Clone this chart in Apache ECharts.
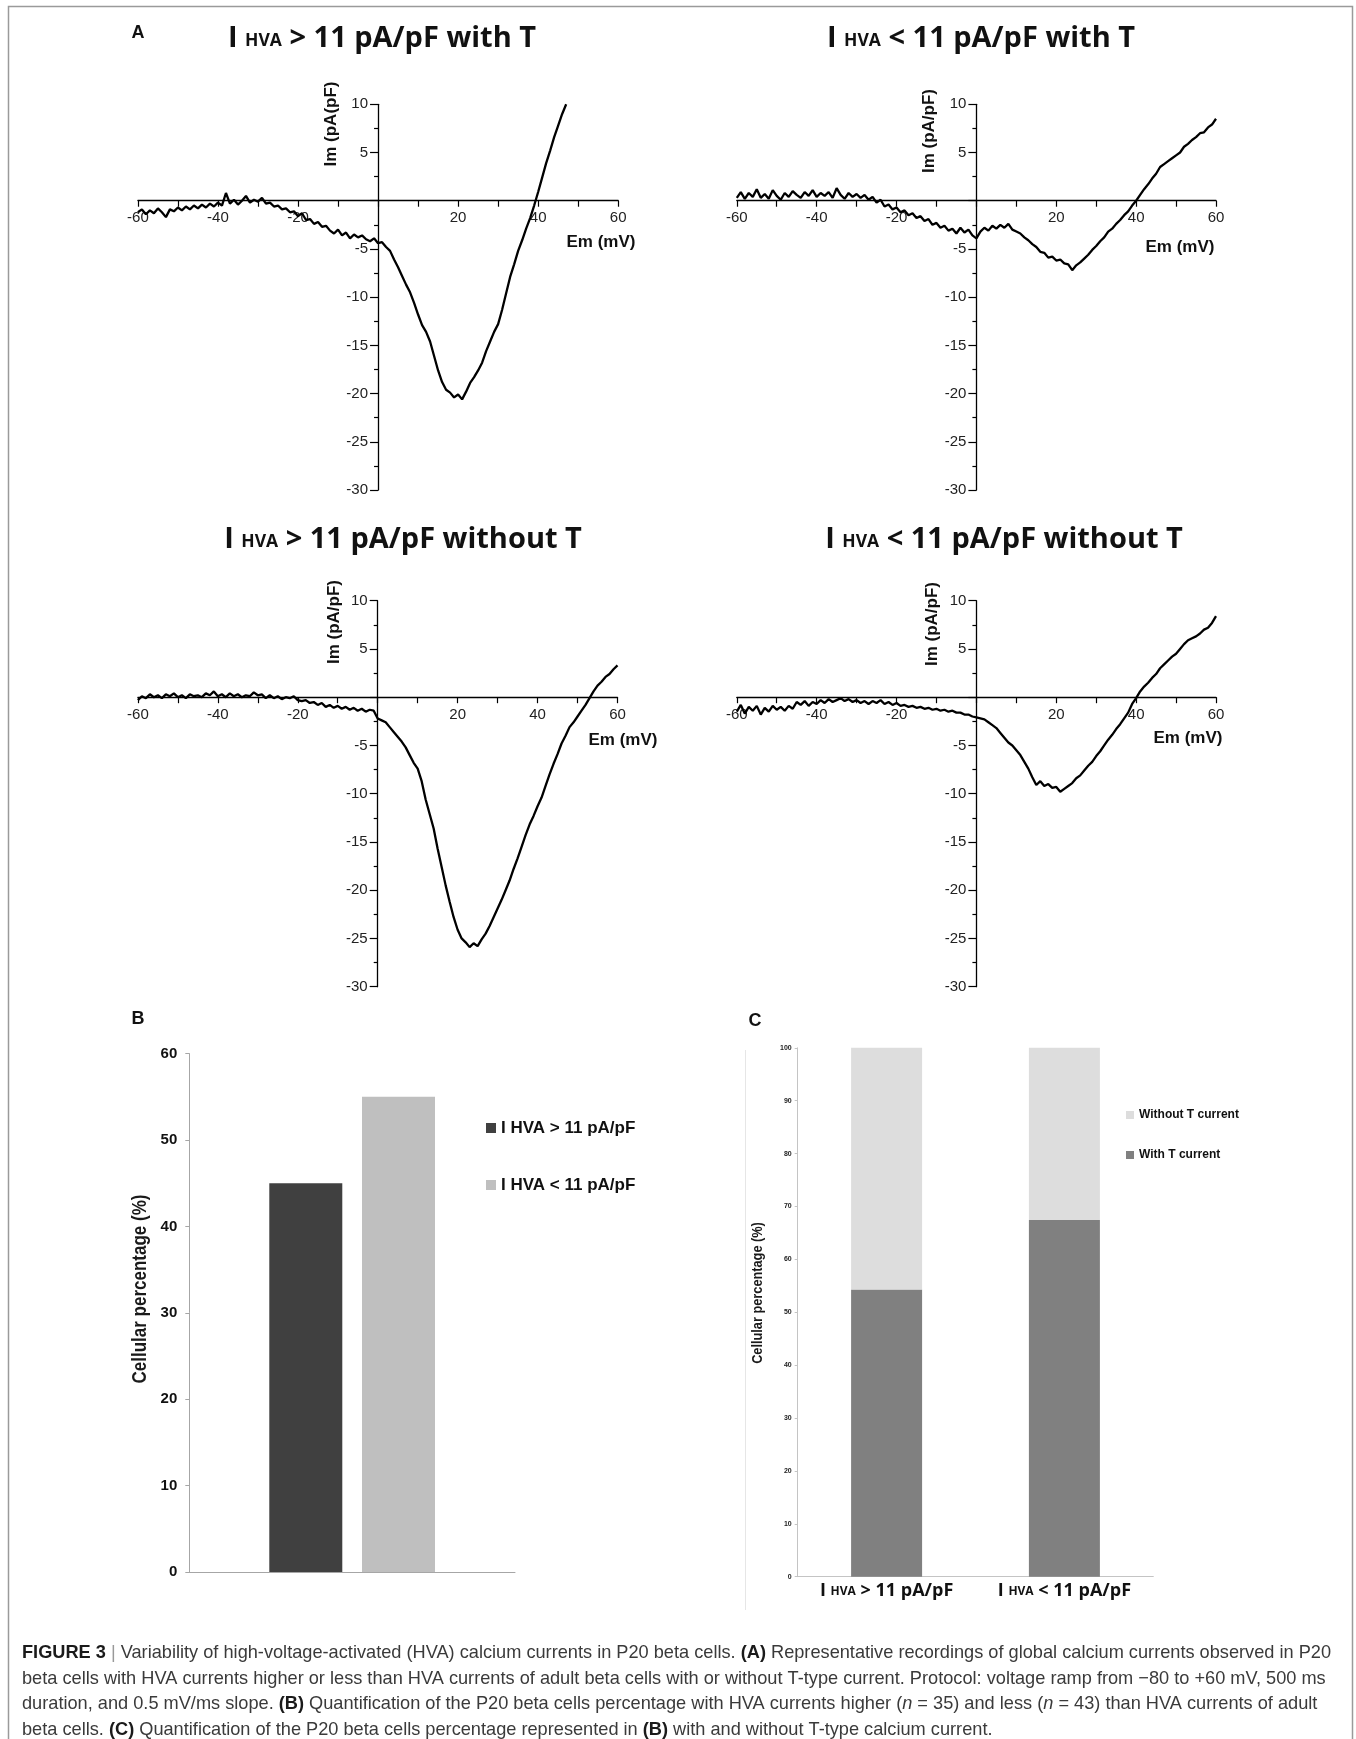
<!DOCTYPE html>
<html><head><meta charset="utf-8">
<script src="https://cdn.jsdelivr.net/npm/echarts@6/dist/echarts.min.js"></script>
<style>html,body{margin:0;padding:0;background:#fff}#c{width:1356px;height:1739px}</style>
</head><body><div id="c"></div>
<script>
// ---------- DATA ----------
const voltage = [-60,-59,-58,-57,-56,-55,-54,-53,-52,-51,-50,-49,-48,-47,-46,-45,-44,-43,-42,-41,
-40,-39,-38,-37,-36,-35,-34,-33,-32,-31,-30,-29,-28,-27,-26,-25,-24,-23,-22,-21,
-20,-19,-18,-17,-16,-15,-14,-13,-12,-11,-10,-9,-8,-7,-6,-5,-4,-3,-2,-1,
0,1,2,3,4,5,6,7,8,9,10,11,12,13,14,15,16,17,18,19,20,21,22,23,24,25,26,27,28,29,
30,31,32,33,34,35,36,37,38,39,40,41,42,43,44,45,46,47,48,49,50,51,52,53,54,55,56,57,58,59,60];

const imHighWithT = [-1.2,-0.9,-1.4,-1.0,-1.3,-0.8,-1.2,-1.7,-0.9,-1.1,
-0.7,-1.0,-0.6,-0.9,-0.5,-0.8,-0.4,-0.7,-0.3,-0.6,
-0.2,-0.5,0.8,-0.3,0.1,-0.4,0.0,0.5,-0.2,0.1,
-0.1,0.3,-0.3,-0.2,-0.6,-0.5,-0.9,-0.8,-1.2,-1.1,
-1.6,-1.3,-2.0,-1.9,-2.4,-2.2,-2.7,-2.6,-3.1,-3.4,
-3.0,-3.6,-3.3,-3.9,-3.5,-3.8,-3.6,-4.0,-4.2,-3.9,
-4.4,-4.3,-4.8,-5.2,-6.1,-6.9,-7.8,-8.7,-9.5,-10.6,
-11.8,-12.9,-13.6,-14.6,-16.1,-17.6,-18.8,-19.6,-19.9,-20.4,
-20.1,-20.6,-19.8,-18.9,-18.3,-17.6,-16.8,-15.6,-14.6,-13.6,
-12.8,-11.3,-9.6,-7.9,-6.6,-5.2,-4.1,-2.9,-1.8,-0.5,
0.9,2.4,3.9,5.2,6.6,7.8,9.0,10.0];

const imLowWithT = [0.3,0.9,0.2,0.8,0.4,1.2,0.3,0.7,0.2,1.1,
0.5,0.1,0.8,0.4,1.0,0.6,0.3,0.9,0.5,1.1,
0.4,0.8,0.5,0.9,0.3,1.3,0.6,0.2,0.8,0.4,
0.7,0.3,0.6,0.1,0.4,-0.2,0.1,-0.6,-0.4,-0.9,
-0.7,-1.2,-1.0,-1.5,-1.3,-1.8,-1.6,-2.1,-1.9,-2.5,
-2.3,-2.8,-2.6,-3.1,-2.9,-3.4,-2.8,-3.3,-3.0,-3.6,
-3.9,-3.2,-2.8,-3.1,-2.6,-2.9,-2.5,-2.8,-2.4,-3.0,
-3.2,-3.4,-3.8,-4.1,-4.5,-4.8,-5.3,-5.4,-5.9,-5.8,
-6.2,-6.1,-6.5,-6.6,-7.2,-6.7,-6.4,-6.0,-5.6,-5.1,
-4.7,-4.2,-3.8,-3.2,-2.9,-2.4,-2.0,-1.5,-1.1,-0.5,
0.0,0.6,1.2,1.7,2.3,2.8,3.5,3.8,4.1,4.4,
4.7,5.0,5.6,5.9,6.3,6.6,7.0,7.1,7.6,7.9,
8.5];

const imHighWithoutT = [-0.3,0.1,-0.1,0.3,0.0,0.2,-0.1,0.3,0.1,0.4,
0.0,0.2,-0.1,0.3,0.1,0.2,0.0,0.4,0.2,0.6,
0.1,0.3,0.0,0.4,0.1,0.3,0.0,0.2,0.1,0.5,
0.2,0.3,-0.1,0.2,-0.1,0.1,-0.2,0.0,-0.1,0.1,
-0.3,-0.4,-0.3,-0.6,-0.5,-0.8,-0.6,-1.0,-0.8,-1.1,
-0.9,-1.2,-1.0,-1.3,-1.1,-1.4,-1.2,-1.5,-1.3,-1.4,
-2.2,-2.4,-2.6,-3.1,-3.6,-4.1,-4.6,-5.2,-6.0,-6.8,
-7.4,-8.7,-10.6,-12.1,-13.6,-15.7,-17.6,-19.5,-21.2,-22.8,
-24.1,-25.0,-25.4,-25.9,-25.5,-25.8,-25.1,-24.5,-23.7,-22.8,
-21.9,-21.0,-20.0,-19.0,-17.8,-16.7,-15.5,-14.3,-13.2,-12.3,
-11.3,-10.4,-9.2,-8.0,-6.9,-5.9,-4.8,-4.0,-3.1,-2.6,
-2.0,-1.4,-0.8,-0.1,0.6,1.2,1.6,2.1,2.4,2.9,
3.3];

const imLowWithoutT = [-1.5,-0.8,-1.7,-1.0,-1.4,-0.9,-1.8,-1.1,-1.5,-0.9,
-1.3,-1.0,-1.4,-0.9,-1.2,-0.5,-0.8,-0.4,-0.9,-0.5,
-0.7,-0.3,-0.6,-0.2,-0.5,-0.3,-0.1,-0.4,-0.2,-0.5,
-0.3,-0.6,-0.4,-0.7,-0.4,-0.6,-0.3,-0.7,-0.5,-0.8,
-0.6,-0.9,-0.8,-1.0,-0.9,-1.1,-1.0,-1.2,-1.1,-1.3,
-1.2,-1.4,-1.3,-1.5,-1.4,-1.6,-1.6,-1.8,-1.8,-2.0,
-2.1,-2.2,-2.3,-2.6,-2.9,-3.2,-3.7,-4.2,-4.7,-5.0,
-5.5,-6.0,-6.7,-7.4,-8.3,-9.1,-8.7,-9.2,-9.0,-9.4,
-9.3,-9.8,-9.5,-9.2,-8.9,-8.4,-8.1,-7.6,-7.1,-6.7,
-6.1,-5.6,-5.0,-4.4,-3.9,-3.3,-2.8,-2.2,-1.6,-0.7,
-0.1,0.6,1.1,1.5,2.0,2.4,3.0,3.4,3.8,4.2,
4.5,5.0,5.5,5.9,6.1,6.3,6.6,7.0,7.2,7.7,
8.4];

const panelComparators = ['>', '<', '>', '<'];
const panelSuffixes = ['with T', 'with T', 'without T', 'without T'];
const currentAxisNames = ['Im (pA(pF)', 'Im (pA/pF)', 'Im (pA/pF)', 'Im (pA/pF)'];
const voltageAxisName = 'Em (mV)';
const voltageRange = [-60, 60];
const currentRange = [-30, 10];

const groupLabels = ['I HVA > 11 pA/pF', 'I HVA < 11 pA/pF'];
const cellPercent = [45, 55];
const tCurrentNames = ['With T current', 'Without T current'];
const withTCurrent = [54.29, 67.44];
const withoutTCurrent = [45.71, 32.56];

// ---------- LAYOUT / STYLE ----------
const SANS = '"Liberation Sans", Arial, Helvetica, sans-serif';
const NARROW = '"Liberation Sans Narrow", "Arial Narrow", "Liberation Sans", sans-serif';
const TITLE = '"Open Sans", "Noto Sans", sans-serif';

const ivGrids = [
  {left:137.9, top:104.3, width:480.3, height:385.7},
  {left:736.8, top:104.3, width:479.2, height:385.7},
  {left:137.9, top:600.7, width:479.6, height:386},
  {left:736.8, top:600.7, width:479.2, height:386}
];
const titlePos = [[382,36],[981,36],[403,537],[1004,537]];
const yNamePos = [[331,124],[929,131],[334,622],[932,624]];
const xNamePos = [[601,242],[1180,247],[623,740],[1188,738]];
const traces = [imHighWithT, imLowWithT, imHighWithoutT, imLowWithoutT];

const grids = ivGrids.map(g => Object.assign({outerBoundsMode:'none', containLabel:false}, g));
grids.push({left:189.3, top:1053.6, width:325.7, height:518.5, outerBoundsMode:'none', containLabel:false});
grids.push({left:797.7, top:1047.8, width:355.6, height:528.9, outerBoundsMode:'none', containLabel:false});

const hideZero = v => (v === 0 ? '' : String(v));
const xAxes = [], yAxes = [], series = [];
ivGrids.forEach((g, i) => {
  // place the axes through the origin (crossing axes), labels included
  const xOff = -g.height * (0 - currentRange[0]) / (currentRange[1] - currentRange[0]);
  const yOff = -g.width * (0 - voltageRange[0]) / (voltageRange[1] - voltageRange[0]);
  xAxes.push({
    type:'value', gridIndex:i, min:voltageRange[0], max:voltageRange[1], interval:20,
    position:'bottom', offset:xOff,
    axisLine:{show:true, onZero:false, lineStyle:{color:'#000', width:1.3}},
    axisTick:{show:true, length:6, lineStyle:{color:'#000', width:1.2}},
    minorTick:{show:true, splitNumber:2, length:6, lineStyle:{color:'#000', width:1.2}},
    axisLabel:{fontFamily:SANS, fontSize:15, color:'#222', margin:10, formatter:hideZero},
    splitLine:{show:false}, minorSplitLine:{show:false}
  });
  yAxes.push({
    type:'value', gridIndex:i, min:currentRange[0], max:currentRange[1], interval:5,
    position:'left', offset:yOff,
    axisLine:{show:true, onZero:false, lineStyle:{color:'#000', width:1.3}},
    axisTick:{show:true, length:8, lineStyle:{color:'#000', width:1.2}},
    minorTick:{show:true, splitNumber:2, length:4, lineStyle:{color:'#000', width:1.2}},
    axisLabel:{fontFamily:SANS, fontSize:15, color:'#222', margin:10, formatter:hideZero},
    splitLine:{show:false}, minorSplitLine:{show:false}
  });
  series.push({
    type:'line', xAxisIndex:i, yAxisIndex:i, showSymbol:false, symbol:'none', silent:true,
    lineStyle:{color:'#000', width:2.3}, z:5,
    data: traces[i].map((y, k) => [voltage[k], y])
  });
});

// Panel B
xAxes.push({type:'category', gridIndex:4, data:[''],
  axisLine:{show:true, lineStyle:{color:'#a6a6a6', width:1}}, axisTick:{show:false}, axisLabel:{show:false}});
yAxes.push({type:'value', gridIndex:4, min:0, max:60, interval:10,
  axisLine:{show:true, lineStyle:{color:'#a6a6a6', width:1}},
  axisTick:{show:true, length:4, lineStyle:{color:'#a6a6a6'}},
  axisLabel:{fontFamily:NARROW, fontWeight:'bold', fontSize:15, color:'#111', margin:12},
  splitLine:{show:false}});
series.push({type:'bar', name:groupLabels[0], xAxisIndex:4, yAxisIndex:4, data:[cellPercent[0]],
  itemStyle:{color:'#404040'}, barWidth:73, barGap:'27%'});
series.push({type:'bar', name:groupLabels[1], xAxisIndex:4, yAxisIndex:4, data:[cellPercent[1]],
  itemStyle:{color:'#bfbfbf'}, barWidth:73, barGap:'27%'});

// Panel C
xAxes.push({type:'category', gridIndex:5, data:groupLabels,
  axisLine:{show:true, lineStyle:{color:'#c4c4c4', width:1}}, axisTick:{show:false},
  axisLabel:{interval:0, hideOverlap:false, margin:1, formatter: v => '{a|I }{s|HVA}{a|' + v.slice(5) + '}',
    rich:{a:{fontFamily:TITLE, fontWeight:'bold', fontSize:18, color:'#111', verticalAlign:'bottom', lineHeight:22},
          s:{fontFamily:TITLE, fontWeight:'bold', fontSize:12, color:'#111', verticalAlign:'bottom', lineHeight:14, padding:[0,0,2,0]}}}});
yAxes.push({type:'value', gridIndex:5, min:0, max:100, interval:10,
  axisLine:{show:true, lineStyle:{color:'#c4c4c4', width:1}},
  axisTick:{show:true, length:3, lineStyle:{color:'#c4c4c4'}},
  axisLabel:{fontFamily:SANS, fontWeight:'bold', fontSize:7, color:'#222', margin:6},
  splitLine:{show:false}});
series.push({type:'bar', name:tCurrentNames[0], xAxisIndex:5, yAxisIndex:5, stack:'t', data:withTCurrent,
  itemStyle:{color:'#808080'}, barWidth:71});
series.push({type:'bar', name:tCurrentNames[1], xAxisIndex:5, yAxisIndex:5, stack:'t', data:withoutTCurrent,
  itemStyle:{color:'#dddddd'}, barWidth:71});

// ---------- GRAPHIC TEXT ----------
const g = [];
g.push({type:'rect', silent:true, shape:{x:8.5, y:6.5, width:1344, height:1800},
  style:{fill:'none', stroke:'#9a9a9a', lineWidth:1.5}});
g.push({type:'line', silent:true, shape:{x1:745.5, y1:1050, x2:745.5, y2:1610},
  style:{stroke:'#e6e6e6', lineWidth:1}});

const titleRich = {
  a:{fontFamily:TITLE, fontWeight:'bold', fontSize:29, fill:'#111', verticalAlign:'bottom', lineHeight:35},
  s:{fontFamily:TITLE, fontWeight:'bold', fontSize:17.5, fill:'#111', verticalAlign:'bottom', lineHeight:21, padding:[0,0,3,0]}
};
for (let i = 0; i < 4; i++) {
  g.push({type:'text', x:titlePos[i][0], y:titlePos[i][1],
    style:{text:'{a|I }{s|HVA}{a| ' + panelComparators[i] + ' 11 pA/pF ' + panelSuffixes[i] + '}',
      rich:titleRich, align:'center', verticalAlign:'middle'}});
  g.push({type:'text', x:yNamePos[i][0], y:yNamePos[i][1], rotation:Math.PI/2,
    style:{text:currentAxisNames[i], font:'bold 17px ' + SANS, fill:'#111', align:'center', verticalAlign:'middle'}});
  g.push({type:'text', x:xNamePos[i][0], y:xNamePos[i][1],
    style:{text:voltageAxisName, font:'bold 17px ' + SANS, fill:'#111', align:'center', verticalAlign:'middle'}});
}
[['A',138,33],['B',138,1019],['C',755,1021]].forEach(p => {
  g.push({type:'text', x:p[1], y:p[2],
    style:{text:p[0], font:'bold 18px ' + SANS, fill:'#111', align:'center', verticalAlign:'middle'}});
});
g.push({type:'text', x:140, y:1289, rotation:Math.PI/2, scaleX:0.85,
  style:{text:'Cellular percentage (%)', font:'bold 20px ' + SANS, fill:'#1a1a1a', align:'center', verticalAlign:'middle'}});
g.push({type:'text', x:757.5, y:1293, rotation:Math.PI/2, scaleX:0.85,
  style:{text:'Cellular percentage (%)', font:'bold 15px ' + SANS, fill:'#1a1a1a', align:'center', verticalAlign:'middle'}});

const captionLines = [
  '{b|FIGURE 3} {g||} Variability of high-voltage-activated (HVA) calcium currents in P20 beta cells. {b|(A)} Representative recordings of global calcium currents observed in P20',
  'beta cells with HVA currents higher or less than HVA currents of adult beta cells with or without T-type current. Protocol: voltage ramp from \u221280 to +60 mV, 500 ms',
  'duration, and 0.5 mV/ms slope. {b|(B)} Quantification of the P20 beta cells percentage with HVA currents higher ({i|n} = 35) and less ({i|n} = 43) than HVA currents of adult',
  'beta cells. {b|(C)} Quantification of the P20 beta cells percentage represented in {b|(B)} with and without T-type calcium current.'
];
const capY = [1653, 1678.5, 1704, 1729.5];
captionLines.forEach((t, i) => {
  g.push({type:'text', x:22, y:capY[i],
    style:{text:t, font:'18.2px ' + SANS, fill:'#3a3a3a', align:'left', verticalAlign:'middle',
      rich:{b:{font:'bold 18.2px ' + SANS, fill:'#1a1a1a'}, i:{font:'italic 18.2px ' + SANS, fill:'#3a3a3a'},
            g:{font:'18.2px ' + SANS, fill:'#999'}}}});
});

const chart = echarts.init(document.getElementById('c'), null, {renderer:'canvas', width:1356, height:1739});
chart.setOption({
  animation:false,
  backgroundColor:'#fff',
  grid:grids,
  xAxis:xAxes,
  yAxis:yAxes,
  series:series,
  legend:[
    {data:groupLabels, orient:'vertical', left:486, top:1119, padding:0, itemWidth:10, itemHeight:10, itemGap:39,
     icon:'rect', selectedMode:false,
     textStyle:{fontFamily:NARROW, fontWeight:'bold', fontSize:17, color:'#111', lineHeight:18}},
    {data:[tCurrentNames[1], tCurrentNames[0]], orient:'vertical', left:1126, top:1108, padding:0, itemWidth:8, itemHeight:8, itemGap:26,
     icon:'rect', selectedMode:false,
     textStyle:{fontFamily:NARROW, fontWeight:'bold', fontSize:12, color:'#111', lineHeight:14}}
  ],
  graphic:{elements:g}
});
</script></body></html>
